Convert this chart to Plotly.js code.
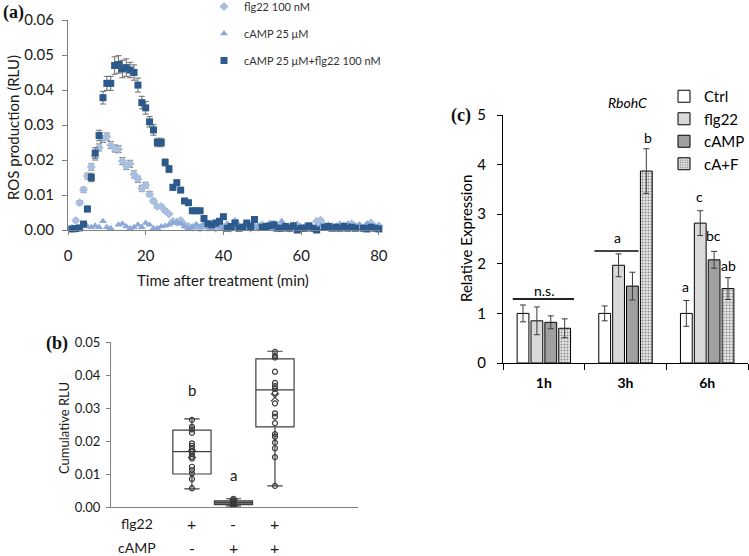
<!DOCTYPE html>
<html>
<head>
<meta charset="utf-8">
<script src="https://cdn.plot.ly/plotly-3.0.1.min.js"></script>
<style>html,body{margin:0;padding:0;background:#fff;}#chart{width:749px;height:556px;}</style>
</head>
<body>
<div id="chart"></div>
<script>
// ---------- Panel (a): ROS kinetics ----------
const timeMin = [1,2,3,4,5,6,7,8,9,10,11,12,13,14,15,16,17,18,19,20,21,22,23,24,25,26,27,28,29,30,31,32,33,34,35,36,37,38,39,40,41,42,43,44,45,46,47,48,49,50,51,52,53,54,55,56,57,58,59,60,61,62,63,64,65,66,67,68,69,70,71,72,73,74,75,76,77,78,79,80];
const rosFlg22 = [0.0005,0.0027,0.0078,0.0115,0.0154,0.018,0.021,0.0236,0.026,0.0267,0.0243,0.0233,0.0231,0.0197,0.0183,0.0189,0.0159,0.0145,0.0119,0.0128,0.0103,0.0083,0.0067,0.0067,0.0055,0.0046,0.0025,0.0022,0.0027,0.0015,0.001,0.0008,0.0012,0.0005,0.0015,0.0008,0.001,0.0005,0.0012,0.0008,0.0015,0.0005,0.0025,0.001,0.0008,0.0015,0.0005,0.0012,0.0008,0.0015,0.001,0.0018,0.0005,0.001,0.0012,0.0008,0.0005,0.001,0.0015,0.0005,0.0008,0.001,0.0005,0.0025,0.0028,0.0012,0.0008,0.001,0.0005,0.0015,0.001,0.0012,0.0018,0.0008,0.0012,0.0005,0.0015,0.002,0.0008,0.0012];
const errFlg22 = [0.0003,0.0004,0.0006,0.0007,0.0008,0.0009,0.001,0.001,0.001,0.001,0.001,0.001,0.001,0.001,0.001,0.001,0.001,0.0009,0.0008,0.0008,0.0007,0.0006,0.0005,0.0005,0.0005,0.0004,0.0004,0.0004,0.0004,0.0003,0.0003,0.0003,0.0003,0.0003,0.0003,0.0003,0.0003,0.0003,0.0003,0.0003,0.0003,0.0003,0.0003,0.0003,0.0003,0.0003,0.0003,0.0003,0.0003,0.0003,0.0003,0.0003,0.0003,0.0003,0.0003,0.0003,0.0003,0.0003,0.0003,0.0003,0.0003,0.0003,0.0003,0.0003,0.0003,0.0003,0.0003,0.0003,0.0003,0.0003,0.0003,0.0003,0.0003,0.0003,0.0003,0.0003,0.0003,0.0003,0.0003,0.0003];
const rosCamp = [0.0003,0.0005,0.0002,0.0012,0.001,0.0008,0.0012,0.0008,0.0025,0.0008,0.0005,-0.0002,0.0015,0.0018,0.001,0.0005,0.0008,0.0015,0.0008,0.002,0.0015,0.0005,0.0005,0.001,0.0012,0.0015,0.002,0.0022,0.0018,0.001,0.0005,0.0008,0.0015,0.001,0.0018,0.0008,0.0003,0.0012,0.001,0.0005,0.0015,0.0008,0.002,0.0012,0.0005,0.001,0.0015,0.0008,0.0012,0.0005,0.001,0.0015,0.002,0.001,0.0025,0.0012,0.0008,0.0015,0.0005,0.001,0.0012,0.0008,-0.0002,0.001,0.0012,0.0008,0.0015,0.001,0.0012,0.0005,0.0015,0.0018,0.001,0.0012,0.0015,0.0008,0.0018,0.0012,0.0005,0.0008];
const rosCombo = [0.0003,0.0004,0.0006,0.0017,0.006,0.015,0.022,0.027,0.0378,0.0419,0.0419,0.047,0.0473,0.046,0.0464,0.0457,0.045,0.0414,0.0364,0.0349,0.0309,0.0286,0.025,0.025,0.0193,0.0174,0.0122,0.0135,0.0114,0.0083,0.0078,0.0055,0.0055,0.0055,0.0033,0.0018,0.0015,0.002,0.0025,0.0038,0.0005,0.001,0.002,0.0005,0.0008,0.002,0.001,0.003,-0.0003,0.0008,0.001,0.0012,0.0015,0.0005,0.0005,0.001,0.0005,0.0012,0.0,0.0005,0.0005,0.0012,0.0005,0.0,-0.0002,0.0008,0.001,0.0005,0.0008,0.0005,0.001,0.0005,0.0008,0.0005,-0.0003,0.0005,0.0003,0.0008,0.0005,0.0003];
const errCombo = [0.0003,0.0003,0.0003,0.0004,0.0008,0.0012,0.0015,0.0015,0.0018,0.002,0.002,0.0025,0.0025,0.0025,0.0025,0.0022,0.0022,0.002,0.0018,0.0018,0.0015,0.0015,0.0012,0.0012,0.001,0.001,0.0008,0.0008,0.0006,0.0005,0.0005,0.0004,0.0004,0.0004,0.0004,0.0003,0.0003,0.0003,0.0003,0.0003,0.0003,0.0003,0.0003,0.0003,0.0003,0.0003,0.0003,0.0003,0.0003,0.0003,0.0003,0.0003,0.0003,0.0003,0.0003,0.0003,0.0003,0.0003,0.0003,0.0003,0.0003,0.0003,0.0003,0.0003,0.0003,0.0003,0.0003,0.0003,0.0003,0.0003,0.0003,0.0003,0.0003,0.0003,0.0003,0.0003,0.0003,0.0003,0.0003,0.0003];
const seriesNamesA = ['flg22 100 nM', 'cAMP 25 μM', 'cAMP 25 μM+flg22 100 nM'];
const xTicksA = [0, 20, 40, 60, 80];

// ---------- Panel (b): cumulative RLU boxes ----------
const boxX = [1, 2, 3];
const boxQ1 = [0.0100, 0.0007, 0.0243];
const boxMedian = [0.0168, 0.0013, 0.0355];
const boxQ3 = [0.0233, 0.0019, 0.0449];
const boxLow = [0.0055, 0.0003, 0.0064];
const boxHigh = [0.0267, 0.0025, 0.0472];
const boxMean = [0.0160, 0.0013, 0.0332];
const ptsFlg22 = [0.0264,0.0243,0.0235,0.0225,0.0193,0.0185,0.0176,0.0168,0.0160,0.0152,0.0147,0.0122,0.0112,0.0102,0.0085,0.0057];
const ptsCamp = [0.0025,0.0021,0.0017,0.0014,0.0012,0.0010,0.0008,0.0005,0.0003];
const ptsCombo = [0.0470,0.0458,0.0453,0.0410,0.0376,0.0366,0.0358,0.0346,0.0314,0.0284,0.0274,0.0254,0.0221,0.0213,0.0195,0.0178,0.0151,0.0064];
const boxLetters = ['b', 'a', 'c'];
const letterY = [0.0355, 0.0097, 0.0545];
const flgRow = ['+', '-', '+'];
const campRow = ['-', '+', '+'];

// ---------- Panel (c): RbohC expression ----------
const timeCats = ['1h', '3h', '6h'];
const exprNames = ['Ctrl', 'flg22', 'cAMP', 'cA+F'];
const exprCtrl = [1.0, 1.0, 1.0];
const exprFlg22 = [0.85, 1.97, 2.82];
const exprCamp = [0.82, 1.55, 2.08];
const exprCombo = [0.70, 3.87, 1.50];
const errCtrl = [0.17, 0.15, 0.26];
const errFlg = [0.28, 0.23, 0.25];
const errCampC = [0.13, 0.28, 0.17];
const errComboC = [0.19, 0.45, 0.22];

const F = 'Lato, "Open Sans", sans-serif';
const W = 749, H = 556;
const px = v => v / W;
const py = v => 1 - v / H;

const traces = [];
// panel a
const aColors = ['#A9BFE0', '#8CA8D6', '#2D5A8C'];
const aSymbols = ['diamond', 'triangle-up', 'square'];
const aSizes = [7, 7, 7];
const aY = [rosFlg22, rosCamp, rosCombo];
const aErr = [errFlg22, null, errCombo];
for (let i = 0; i < 3; i++) {
  const t = {
    type: 'scatter', mode: 'markers', x: timeMin, y: aY[i], name: seriesNamesA[i],
    xaxis: 'x', yaxis: 'y', legend: 'legend2', legendgroup: 'a' + i,
    marker: {symbol: aSymbols[i], size: aSizes[i], color: aColors[i]},
    cliponaxis: false, hoverinfo: 'skip'
  };
  if (aErr[i]) t.error_y = {type: 'data', array: aErr[i], visible: true, color: '#6b6b6b', thickness: 1, width: 3};
  traces.push(t);
}
// panel b
const fills = ['#ffffff', '#7f7f7f', '#ffffff'];
for (let i = 0; i < 3; i++) {
  traces.push({
    type: 'box', xaxis: 'x2', yaxis: 'y2', x: [boxX[i]],
    q1: [boxQ1[i]], median: [boxMedian[i]], q3: [boxQ3[i]],
    lowerfence: [boxLow[i]], upperfence: [boxHigh[i]],
    width: 0.92, whiskerwidth: 0.4, fillcolor: fills[i],
    line: {color: '#404040', width: 1.2}, boxpoints: false,
    showlegend: false, hoverinfo: 'skip'
  });
}
const ptsAll = [ptsFlg22, ptsCamp, ptsCombo];
for (let i = 0; i < 3; i++) {
  traces.push({
    type: 'scatter', mode: 'markers', xaxis: 'x2', yaxis: 'y2',
    x: ptsAll[i].map(() => boxX[i]), y: ptsAll[i],
    marker: {symbol: 'circle-open', size: 5, color: '#3a3a3a', line: {width: 1.2}},
    showlegend: false, hoverinfo: 'skip'
  });
}
traces.push({
  type: 'scatter', mode: 'markers', xaxis: 'x2', yaxis: 'y2', x: boxX, y: boxMean,
  marker: {symbol: 'x-thin-open', size: 8, color: '#3a3a3a', line: {width: 1.2, color: '#3a3a3a'}},
  showlegend: false, hoverinfo: 'skip'
});
// panel c
const cVals = [exprCtrl, exprFlg22, exprCamp, exprCombo];
const cErr = [errCtrl, errFlg, errCampC, errComboC];
const cFill = ['#ffffff', '#d9d9d9', '#a0a0a0', '#e4e4e4'];
for (let i = 0; i < 4; i++) {
  const m = {color: cFill[i], line: {color: '#000000', width: 1}};
  if (i === 3) m.pattern = {shape: '.', fgcolor: '#8c8c8c', bgcolor: '#e6e6e6', size: 3, solidity: 0.35};
  traces.push({
    type: 'bar', xaxis: 'x3', yaxis: 'y3', x: timeCats, y: cVals[i], name: exprNames[i],
    legend: 'legend', marker: m,
    error_y: {type: 'data', array: cErr[i], visible: true, color: '#3a3a3a', thickness: 1, width: 3},
    hoverinfo: 'skip'
  });
}

const ann = [];
const tx = (text, x, y, size, opts) => ann.push(Object.assign({
  text, x, y, xref: 'paper', yref: 'paper', showarrow: false,
  font: {family: F, size, color: '#1a1a1a'}, xanchor: 'center', yanchor: 'middle'
}, opts || {}));

// panel labels
tx('<b>(a)</b>', px(13), py(13), 18, {font: {family: '"Liberation Serif", "DejaVu Serif", serif', size: 18, color: '#111'}});
tx('<b>(b)</b>', px(57), py(343), 18, {font: {family: '"Liberation Serif", "DejaVu Serif", serif', size: 18, color: '#111'}});
tx('<b>(c)</b>', px(461), py(115), 18, {font: {family: '"Liberation Serif", "DejaVu Serif", serif', size: 18, color: '#111'}});
// axis titles
tx('ROS production (RLU)', px(13), py(128), 15, {textangle: -90});
tx('Time after treatment (min)', px(223), py(280), 15);
tx('Cumulative RLU', px(64), py(428), 13, {textangle: -90});
tx('Relative Expression', px(466), py(239), 15, {textangle: -90, font: {family: F, size: 15, color: '#000'}});
tx('<i>RbohC</i>', px(627), py(103), 14, {font: {family: F, size: 14, color: '#000'}});
// panel b rows
tx('flg22', px(137), py(523), 14);
tx('cAMP', px(137), py(547), 14);
for (let i = 0; i < 3; i++) {
  ann.push({text: flgRow[i], x: boxX[i], y: py(523), xref: 'x2', yref: 'paper', yanchor: 'middle', showarrow: false, font: {family: F, size: 16, color: '#1a1a1a'}});
  ann.push({text: campRow[i], x: boxX[i], y: py(547), xref: 'x2', yref: 'paper', yanchor: 'middle', showarrow: false, font: {family: F, size: 16, color: '#1a1a1a'}});
  ann.push({text: boxLetters[i], x: boxX[i], y: letterY[i], xref: 'x2', yref: 'y2', yanchor: 'middle', showarrow: false, font: {family: F, size: 15, color: '#1a1a1a'}});
}
// panel c letters
const cLetters = [
  ['n.s.', 0, 1.47], ['a', 0.9, 2.54], ['b', 1.27, 4.54],
  ['a', 1.73, 1.55], ['c', 1.91, 3.35], ['bc', 2.08, 2.58], ['ab', 2.26, 1.96]
];
cLetters.forEach(l => ann.push({text: l[0], x: l[1], y: l[2], xref: 'x3', yref: 'y3', yanchor: 'middle', showarrow: false, font: {family: F, size: 14, color: '#000'}}));

const layout = {
  width: W, height: H, margin: {l: 0, r: 0, t: 0, b: 0, autoexpand: false},
  paper_bgcolor: '#fff', plot_bgcolor: 'rgba(0,0,0,0)',
  font: {family: F, color: '#1a1a1a'},
  barmode: 'group', bargap: 0.32, bargroupgap: 0.15,
  xaxis: {domain: [px(68), px(380)], range: [0, 80.3], anchor: 'y', tickvals: xTicksA,
    ticks: 'outside', ticklen: 4, tickcolor: '#7f7f7f', showline: true, linecolor: '#7f7f7f',
    showgrid: false, zeroline: false, tickfont: {family: F, size: 15, color: '#1a1a1a'}, ticklabelstandoff: 8},
  yaxis: {domain: [py(230), py(20)], range: [0, 0.06], anchor: 'x', dtick: 0.01, tickformat: '.2f',
    ticks: 'outside', ticklen: 5, tickcolor: '#7f7f7f', showline: true, linecolor: '#7f7f7f',
    showgrid: false, zeroline: false, tickfont: {family: F, size: 15, color: '#1a1a1a'}, ticklabelstandoff: 5},
  xaxis2: {domain: [px(111), px(358)], range: [-0.95, 5], anchor: 'y2', showticklabels: false,
    ticks: '', showline: true, linecolor: '#808080', showgrid: false, zeroline: false},
  yaxis2: {domain: [py(507), py(342)], range: [0, 0.05], anchor: 'x2', dtick: 0.01, tickformat: '.2f',
    ticks: 'outside', ticklen: 4, tickcolor: '#808080', showline: true, linecolor: '#808080',
    showgrid: false, zeroline: false, tickfont: {family: F, size: 13, color: '#1a1a1a'}, ticklabelstandoff: 3},
  xaxis3: {domain: [px(503), px(748)], type: 'category', anchor: 'y3', tickson: 'boundaries',
    ticks: 'outside', ticklen: 6, tickcolor: '#000', showline: true, linecolor: '#000', linewidth: 1,
    showgrid: false, zeroline: false, tickfont: {family: F, size: 14, color: '#000', weight: 'bold'}, ticklabelstandoff: 7},
  yaxis3: {domain: [py(363), py(115)], range: [0, 5], anchor: 'x3', dtick: 1,
    ticks: 'outside', ticklen: 5, tickcolor: '#000', showline: true, linecolor: '#000',
    showgrid: false, zeroline: false, tickfont: {family: F, size: 15, color: '#000'}, ticklabelstandoff: 8},
  legend: {x: px(664), y: py(80), xanchor: 'left', yanchor: 'top', bgcolor: 'rgba(0,0,0,0)',
    font: {family: F, size: 15, color: '#000'}, itemwidth: 30, traceorder: 'normal'},
  legend2: {x: px(204), y: py(-8), xanchor: 'left', yanchor: 'top', bgcolor: 'rgba(0,0,0,0)',
    font: {family: F, size: 11, color: '#333'}, itemwidth: 30, tracegroupgap: 8, traceorder: 'grouped'},
  showlegend: true,
  shapes: [
    {type: 'line', xref: 'x3', yref: 'y3', x0: -0.38, x1: 0.37, y0: 1.29, y1: 1.29, line: {color: '#222', width: 2}},
    {type: 'line', xref: 'x3', yref: 'y3', x0: 0.62, x1: 1.16, y0: 2.26, y1: 2.26, line: {color: '#444', width: 2}}
  ],
  annotations: ann
};

Plotly.newPlot('chart', traces, layout, {staticPlot: true, displayModeBar: false});
</script>
</body>
</html>
